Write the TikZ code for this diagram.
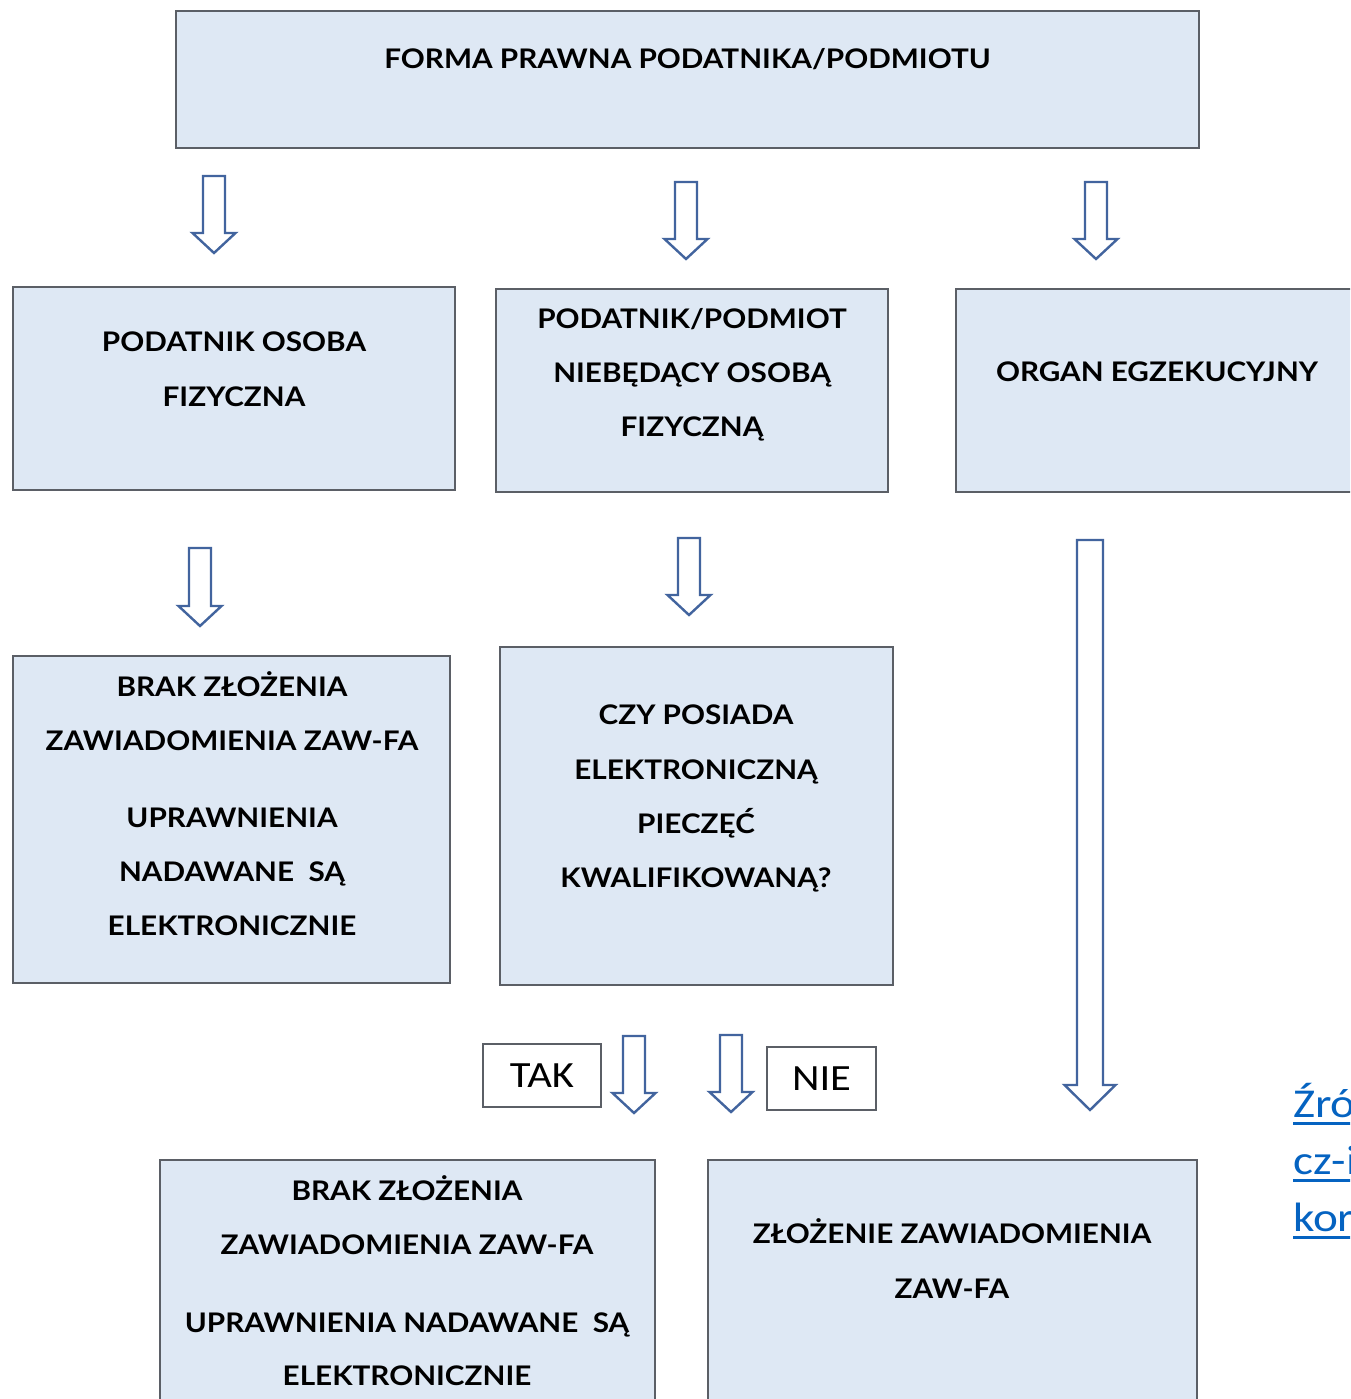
\documentclass[tikz,border=0pt]{standalone}
\usepackage{fontspec}
\setmainfont{Lato}[FakeStretch=1.1]
\newfontfamily\calibri{Carlito}[FakeStretch=1.15]
\usetikzlibrary{calc}
\definecolor{boxfill}{HTML}{DEE8F4}
\definecolor{boxline}{HTML}{5B5F66}
\definecolor{arrline}{HTML}{42649E}
\definecolor{linkblue}{HTML}{0563C1}
\newcommand\mkbox[6][box]{\node[#1, minimum width={#5-#3}, minimum height={#6-#4}, inner sep=0] (#2) at ({(#3+#5)/2},{-(#4+#6)/2}) {};}
\newcommand\txtline[4]{\node[lbl] (#1) at (#2,-#3) {#4};}
\newcommand\blockarrow[7]{%
  \coordinate (#1s) at (#2,-#3);
  \coordinate (#1e) at (#2,-#4);
  \draw[barrow] ($(#1s)+(-#5,0)$) -- ($(#1s)+(#5,0)$) -- ($(#1e)+(#5,#7)$) -- ($(#1e)+(#6,#7)$) -- (#1e) -- ($(#1e)+(-#6,#7)$) -- ($(#1e)+(-#5,#7)$) -- cycle;}
\begin{document}
\begin{tikzpicture}[x=1pt,y=1pt,
 box/.style={draw=boxline, line width=2pt, fill=boxfill},
 tag/.style={draw=boxline, line width=1.6pt, fill=white},
 lbl/.style={font=\fontsize{27}{27}\selectfont\bfseries, anchor=base, inner sep=0},
 tagtxt/.style={font=\calibri\fontsize{37}{37}\selectfont, inner sep=0},
 linktxt/.style={font=\calibri\fontsize{41}{41}\selectfont, text=linkblue, anchor=base west, inner sep=0},
 barrow/.style={draw=arrline, line width=2.4pt, fill=white, line join=miter},
]
\useasboundingbox (0,0) rectangle (1350,-1399);
\clip (0,0) rectangle (1350,-1399);
\fill[white] (0,0) rectangle (1350,-1399);
% boxes
\mkbox{top}{176}{11}{1199}{148}
\mkbox{l1}{13}{287}{455}{490}
\mkbox{m1}{496}{289}{888}{492}
\mkbox{r1}{956}{289}{1358}{492}
\mkbox{l2}{13}{656}{450}{983}
\mkbox{m2}{500}{647}{893}{985}
\mkbox{b1}{160}{1160}{655}{1420}
\mkbox{b2}{708}{1160}{1197}{1420}
\mkbox[tag]{tak}{483}{1044}{601}{1107}
\mkbox[tag]{nie}{767}{1047}{876}{1110}
% texts
\txtline{ttop}{687.5}{69}{FORMA PRAWNA PODATNIKA/PODMIOTU}
\txtline{tl1a}{234}{351}{PODATNIK OSOBA}
\txtline{tl1b}{234}{406}{FIZYCZNA}
\txtline{tm1a}{692}{328}{PODATNIK/PODMIOT}
\txtline{tm1b}{692}{382}{NIEBĘDĄCY OSOBĄ}
\txtline{tm1c}{692}{436}{FIZYCZNĄ}
\txtline{tr1}{1157}{381}{ORGAN EGZEKUCYJNY}
\txtline{tl2a}{232}{696}{BRAK ZŁOŻENIA}
\txtline{tl2b}{232}{750}{ZAWIADOMIENIA ZAW-FA}
\txtline{tl2c}{232}{827}{UPRAWNIENIA}
\txtline{tl2d}{232}{881}{NADAWANE\ \ SĄ}
\txtline{tl2e}{232}{935}{ELEKTRONICZNIE}
\txtline{tm2a}{696}{724}{CZY POSIADA}
\txtline{tm2b}{696}{779}{ELEKTRONICZNĄ}
\txtline{tm2c}{696}{833}{PIECZĘĆ}
\txtline{tm2d}{696}{887}{KWALIFIKOWANĄ?}
\txtline{tb1a}{407}{1200}{BRAK ZŁOŻENIA}
\txtline{tb1b}{407}{1254}{ZAWIADOMIENIA ZAW-FA}
\txtline{tb1c}{407}{1332}{UPRAWNIENIA NADAWANE\ \ SĄ}
\txtline{tb1d}{407}{1385}{ELEKTRONICZNIE}
\txtline{tb2a}{952}{1243}{ZŁOŻENIE ZAWIADOMIENIA}
\txtline{tb2b}{952}{1298}{ZAW-FA}
\node[tagtxt] (ttak) at (tak) {TAK};
\node[tagtxt] (tnie) at (nie) {NIE};
% arrows
\blockarrow{a1}{214}{176}{253}{11}{21.5}{20}
\blockarrow{a2}{686}{182}{259}{11}{21.5}{20}
\blockarrow{a3}{1096}{182}{259}{11}{21.5}{20}
\blockarrow{a4}{200}{548}{626}{11}{21.5}{20}
\blockarrow{a5}{689}{538}{615}{11}{21.5}{20}
\blockarrow{a6}{1090}{540}{1110}{13}{25.5}{25}
\blockarrow{a7}{634}{1036}{1113}{11}{21.5}{20}
\blockarrow{a8}{731}{1035}{1112}{11}{21.5}{20}
% source link (cut off at the right edge)
\node[linktxt] (s1) at (1293,-1117) {Źró};
\node[linktxt] (s2) at (1293,-1174) {cz-i};
\node[linktxt] (s3) at (1293,-1231) {kor};
\foreach \n in {s1,s2,s3}{\draw[linkblue, line width=3pt] ($(\n.base west)+(0,-6)$) -- ($(\n.base west)+(80,-6)$);}
\end{tikzpicture}
\end{document}
